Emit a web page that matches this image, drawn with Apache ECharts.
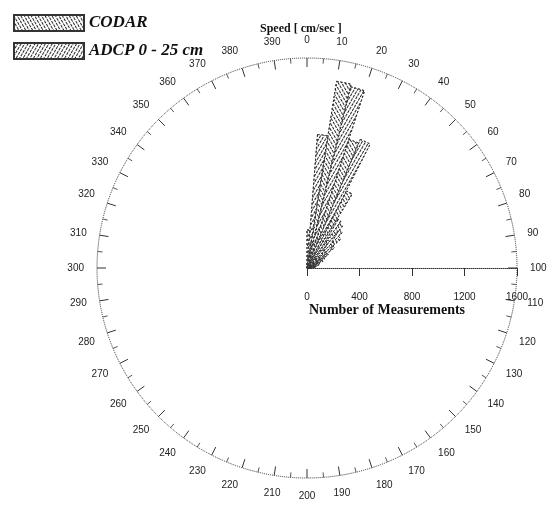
<!DOCTYPE html>
<html>
<head>
<meta charset="utf-8">
<title>CODAR / ADCP rose</title>
<script src="https://cdn.jsdelivr.net/npm/echarts@6/dist/echarts.min.js"></script>
<style>
    html, body { margin: 0; padding: 0; background: #fff; }
    #chart { width: 553px; height: 505px; }
</style>
</head>
<body>
<div id="chart"></div>
<script>
// direction bins, 0..390 (full circle = 400)
var dirBins = [];
for (var d = 0; d < 400; d += 10) { dirBins.push(String(d)); }

var codarCounts = [290, 1440, 1030, 660, 420, 340, 190, 130, 90, 60,
                   30, 18, 10, 6, 0, 0, 0, 0, 0, 0,
                   0, 0, 0, 0, 0, 0, 0, 0, 0, 0,
                   0, 0, 0, 0, 0, 0, 0, 0, 0, 0];
var adcpCounts  = [1020, 1420, 1060, 440, 380, 260, 150, 100, 70, 40,
                   25, 14, 8, 4, 0, 0, 0, 0, 0, 0,
                   0, 0, 0, 0, 0, 0, 0, 0, 0, 0,
                   0, 0, 0, 0, 0, 0, 0, 0, 0, 0];

var countTicks = [0, 400, 800, 1200, 1600];

var centerPos = [307, 268];
var ringRadius = 210;

var myChart = echarts.init(document.getElementById('chart'));

// hatch fill for the bars
function hatch(rot) {
    return {
        symbol: 'rect',
        symbolSize: 1,
        dashArrayX: [[3, 1]],
        dashArrayY: [1, 2],
        rotation: rot,
        color: 'rgba(0,0,0,0.85)',
        backgroundColor: 'rgba(255,255,255,0)'
    };
}

var option = {
    backgroundColor: '#fff',
    animation: false,
    legend: {
        left: 8,
        top: 9,
        orient: 'vertical',
        itemWidth: 70,
        itemHeight: 16,
        itemGap: 10,
        icon: 'rect',
        textStyle: {
            fontFamily: 'Liberation Serif',
            fontWeight: 'bold',
            fontStyle: 'italic',
            fontSize: 17,
            color: '#111'
        },
        data: ['CODAR', 'ADCP 0 - 25 cm']
    },
    polar: [
        {center: centerPos, radius: ringRadius},
        {center: centerPos, radius: ringRadius}
    ],
    angleAxis: [
        // compass ring
        {
            polarIndex: 0,
            type: 'value',
            min: 0,
            max: 400,
            interval: 10,
            startAngle: 90,
            clockwise: true,
            axisLine: {lineStyle: {color: '#333', type: 'dotted', width: 1}},
            axisTick: {show: true, inside: true, length: 9, lineStyle: {color: '#333'}},
            minorTick: {show: true, splitNumber: 2, length: 5, lineStyle: {color: '#555'}},
            axisLabel: {
                margin: 13,
                fontFamily: 'Liberation Sans',
                fontSize: 10,
                color: '#222',
                formatter: function (v) { return v === 400 ? '' : v; }
            },
            splitLine: {show: false}
        },
        // bins for the bars
        {polarIndex: 1, type: 'category', data: dirBins, startAngle: 90, clockwise: true, show: false}
    ],
    radiusAxis: [
        {polarIndex: 0, show: false, min: 0, max: 1600},
        {polarIndex: 1, type: 'value', min: 0, max: 1600, show: false}
    ],
    // count scale pointing east from the centre
    grid: {left: centerPos[0], top: 100, width: ringRadius, height: centerPos[1] - 100},
    xAxis: {
        type: 'value',
        min: 0,
        max: 1600,
        interval: 400,
        axisLine: {lineStyle: {color: '#333', type: 'dotted', width: 1}},
        axisTick: {show: true, length: 8, lineStyle: {color: '#333'}},
        axisLabel: {
            margin: 24,
            fontFamily: 'Liberation Sans',
            fontSize: 10,
            color: '#222',
            formatter: function (v) { return countTicks.indexOf(v) >= 0 ? String(v) : ''; }
        },
        splitLine: {show: false}
    },
    yAxis: {type: 'value', show: false, min: 0, max: 1},
    series: [
        {
            name: 'CODAR',
            type: 'bar',
            coordinateSystem: 'polar',
            polarIndex: 1,
            barGap: '0%',
            barCategoryGap: '0%',
            itemStyle: {
                color: '#fff',
                borderColor: '#333',
                borderWidth: 1,
                borderType: [2, 2],
                decal: hatch(Math.PI / 3)
            },
            data: codarCounts
        },
        {
            name: 'ADCP 0 - 25 cm',
            type: 'bar',
            coordinateSystem: 'polar',
            polarIndex: 1,
            barGap: '0%',
            barCategoryGap: '0%',
            itemStyle: {
                color: '#fff',
                borderColor: '#333',
                borderWidth: 1,
                borderType: [2, 2],
                decal: hatch(-Math.PI / 3)
            },
            data: adcpCounts
        }
    ],
    graphic: [
        {
            type: 'text',
            left: 260,
            top: 23,
            style: {
                text: 'Speed [ cm/sec ]',
                font: 'bold 12px "Liberation Serif"',
                fill: '#111'
            }
        },
        {
            type: 'text',
            left: 309,
            top: 303,
            style: {
                text: 'Number of Measurements',
                font: 'bold 14px "Liberation Serif"',
                fill: '#111'
            }
        }
    ]
};

myChart.setOption(option);
</script>
</body>
</html>
